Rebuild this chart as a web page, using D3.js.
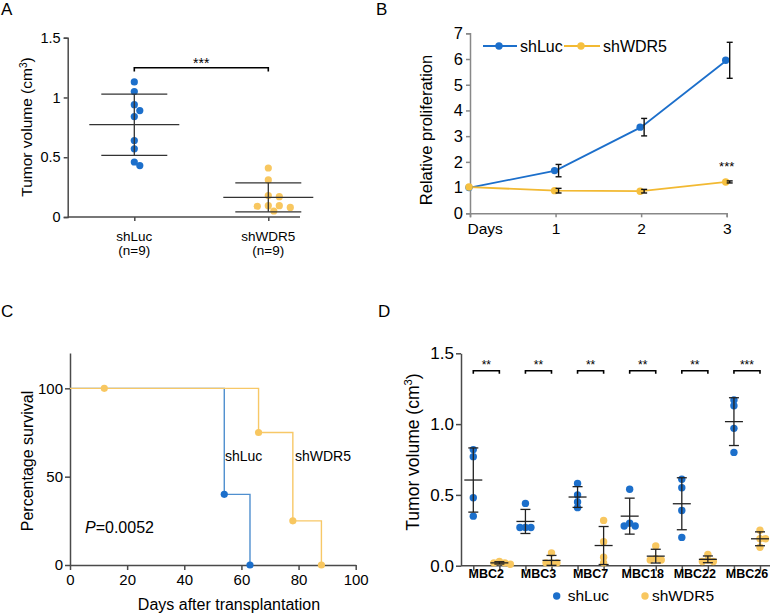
<!DOCTYPE html>
<html>
<head>
<meta charset="utf-8">
<script src="https://cdn.jsdelivr.net/npm/d3@7"></script>
<style>
  body { margin: 0; background: #fff; }
  svg { font-family: "Liberation Sans", Arial, Helvetica, sans-serif; }
</style>
</head>
<body>
<svg id="chart" width="778" height="616"></svg>
<script>
// ---- data ----
// Panel A: tumor volume per mouse
const groupsA = ["shLuc", "shWDR5"];
const volA_shLuc = [1.13, 1.05, 0.94, 0.89, 0.84, 0.64, 0.57, 0.46, 0.43];
const volA_shWDR5 = [0.41, 0.31, 0.18, 0.17, 0.095, 0.095, 0.09, 0.08, 0.05];

// Panel B: relative proliferation over days
const daysB = [0, 1, 2, 3];
const profB_shLuc = [1.0, 1.66, 3.35, 5.95];
const errB_shLuc = [0, 0.24, 0.34, 0.7];
const profB_shWDR5 = [1.02, 0.88, 0.86, 1.22];
const errB_shWDR5 = [0, 0.09, 0.07, 0.04];

// Panel C: survival curves (Kaplan-Meier steps)
const survC_shLuc_t = [0, 54, 63];
const survC_shLuc_p = [100, 40, 0];
const survC_shLuc_markT = [54, 63];
const survC_shLuc_markP = [40, 0];
const survC_shWDR5_t = [0, 66, 78, 88];
const survC_shWDR5_p = [100, 75, 25, 0];
const survC_shWDR5_markT = [12, 66, 78, 88];
const survC_shWDR5_markP = [100, 75, 25, 0];

// Panel D: tumor volume per PDX model
const modelsD = ["MBC2", "MBC3", "MBC7", "MBC18", "MBC22", "MBC26"];
const volD_shLuc = [
  [0.82, 0.77, 0.48, 0.35],
  [0.44, 0.27, 0.27, 0.27],
  [0.58, 0.50, 0.45, 0.41],
  [0.54, 0.30, 0.28, 0.28],
  [0.61, 0.55, 0.39, 0.20],
  [1.17, 1.13, 0.97, 0.80]
];
const volD_shWDR5 = [
  [0.03, 0.02, 0.02, 0.01],
  [0.09, 0.02, 0.02, 0.02],
  [0.32, 0.17, 0.06, 0.02],
  [0.14, 0.05, 0.04, 0.04],
  [0.08, 0.04, 0.03, 0.03],
  [0.25, 0.19, 0.19, 0.13]
];
const starsD = ["**", "**", "**", "**", "**", "***"];

const blue = "#1c6fcb";
const yellow = "#f8c760";
const yellowLine = "#f2b932";
const axisCol = "#4a4a4a";

const svg = d3.select("#chart");

// simple dodge so dots don't pile exactly on top of each other
function swarm(values, y, minDist, step) {
  const placed = [];
  const order = values.map((v, i) => i).sort((a, b) => values[b] - values[a]);
  const out = new Array(values.length);
  order.forEach(i => {
    const py = y(values[i]);
    const offs = [0];
    for (let k = 1; k < 12; k++) { offs.push(k * step, -k * step); }
    for (const o of offs) {
      if (placed.every(p => Math.hypot(p.x - o, p.y - py) >= minDist)) {
        placed.push({x: o, y: py});
        out[i] = o;
        break;
      }
    }
  });
  return out;
}

function styleAxis(g, fontSize) {
  g.select(".domain").attr("stroke", axisCol).attr("stroke-width", 1.5);
  g.selectAll(".tick line").attr("stroke", axisCol).attr("stroke-width", 1.5);
  g.selectAll(".tick text").attr("fill", "#000").style("font-size", fontSize + "px").style("font-family", "inherit");
}

function panelLabel(x, y, t) {
  svg.append("text").attr("x", x).attr("y", y).text(t)
    .style("font-size", "17px");
}

function volumeLabel(g, x, y, size) {
  const t = g.append("text")
    .attr("transform", `translate(${x},${y}) rotate(-90)`)
    .attr("text-anchor", "middle")
    .attr("dy", "0.35em")
    .style("font-size", size + "px");
  t.append("tspan").text("Tumor volume (cm");
  t.append("tspan").text("3").attr("dy", -size * 0.38).style("font-size", (size * 0.65) + "px");
  t.append("tspan").text(")").attr("dy", size * 0.38);
}

// ================= Panel A =================
{
  const g = svg.append("g");
  panelLabel(1, 15, "A");
  const y = d3.scaleLinear().domain([0, 1.5]).range([217, 37.7]);
  const x = d3.scalePoint().domain(groupsA).range([134.3, 268.3]);

  const ya = g.append("g").attr("transform", "translate(67.7,0)")
    .call(d3.axisLeft(y).tickValues([0, 0.5, 1, 1.5]).tickFormat(d3.format("~g")).tickSize(4).tickPadding(3));
  styleAxis(ya, 14.5);

  const xa = g.append("g").attr("transform", "translate(0,217)")
    .call(d3.axisBottom(x).tickSize(4).tickFormat(""));
  styleAxis(xa, 13);
  xa.select(".domain").remove();
  g.append("line").attr("x1", 67.7).attr("x2", 300).attr("y1", 217).attr("y2", 217)
    .attr("stroke", axisCol).attr("stroke-width", 1.5);

  groupsA.forEach(n => {
    const t = g.append("text").attr("x", x(n)).attr("text-anchor", "middle").style("font-size", "13.5px");
    t.append("tspan").attr("x", x(n)).attr("y", 241).text(n);
    t.append("tspan").attr("x", x(n)).attr("y", 255).text("(n=9)");
  });

  volumeLabel(g, 27, 127, 15.5);

  const sets = [[volA_shLuc, blue], [volA_shWDR5, yellow]];
  sets.forEach(([vals, col], gi) => {
    const cx = x(groupsA[gi]);
    const offs = swarm(vals, y, 6, 5.5);
    g.selectAll(null).data(vals).enter().append("circle")
      .attr("cx", (d, i) => cx + offs[i]).attr("cy", d => y(d)).attr("r", 3.6)
      .attr("fill", col);
    const m = d3.mean(vals), s = d3.deviation(vals);
    const eg = g.append("g").attr("stroke", "#333").attr("stroke-width", 1.3);
    eg.append("line").attr("x1", cx - 45).attr("x2", cx + 45).attr("y1", y(m)).attr("y2", y(m));
    eg.append("line").attr("x1", cx).attr("x2", cx).attr("y1", y(m + s)).attr("y2", y(m - s));
    [m + s, m - s].forEach(v => eg.append("line").attr("x1", cx - 33).attr("x2", cx + 33).attr("y1", y(v)).attr("y2", y(v)));
  });

  g.append("path").attr("d", `M${x("shLuc")},71.5V67.7H${x("shWDR5")}V71.5`)
    .attr("fill", "none").attr("stroke", "#000").attr("stroke-width", 1.6);
  g.append("text").attr("x", (x("shLuc") + x("shWDR5")) / 2).attr("y", 68)
    .attr("text-anchor", "middle").style("font-size", "14px").text("***");
}

// ================= Panel B =================
{
  const g = svg.append("g");
  panelLabel(376, 15, "B");
  const y = d3.scaleLinear().domain([0, 7]).range([213.3, 33.3]);
  const x = d3.scaleLinear().domain([0, 3]).range([470, 726.7]);

  const ya = g.append("g").attr("transform", "translate(470,0)")
    .call(d3.axisLeft(y).ticks(7).tickSize(4).tickPadding(3));
  styleAxis(ya, 16.5);
  ya.select(".domain").attr("stroke", "#888");
  ya.selectAll(".tick line").attr("stroke", "#888");
  const xa = g.append("g").attr("transform", "translate(0,213.3)")
    .call(d3.axisBottom(x).tickValues(daysB).tickFormat(d => d === 0 ? "Days" : d).tickSize(4).tickPadding(6));
  styleAxis(xa, 15.5);
  xa.select(".domain").attr("stroke", "#888");
  xa.selectAll(".tick line").attr("stroke", "#888");
  // "Days" sits to the right of its tick
  xa.selectAll(".tick text").filter(d => d === 0).attr("text-anchor", "start").attr("x", -3);

  g.append("text").attr("transform", "translate(426,130) rotate(-90)")
    .attr("text-anchor", "middle").attr("dy", "0.35em").style("font-size", "16.5px")
    .text("Relative proliferation");

  const line = d3.line().x((d, i) => x(daysB[i])).y(d => y(d));
  const series = [
    [profB_shLuc, errB_shLuc, blue, blue],
    [profB_shWDR5, errB_shWDR5, yellowLine, "#f6c03f"]
  ];
  series.forEach(([vals, errs, lc, dc]) => {
    g.append("path").datum(vals).attr("d", line).attr("fill", "none")
      .attr("stroke", lc).attr("stroke-width", 1.8);
  });
  series.forEach(([vals, errs, lc, dc]) => {
    g.selectAll(null).data(vals).enter().append("circle")
      .attr("cx", (d, i) => x(daysB[i]) - 1).attr("cy", d => y(d)).attr("r", 3.7).attr("fill", dc);
  });
  series.forEach(([vals, errs]) => {
    vals.forEach((v, i) => {
      if (!errs[i]) return;
      const bx = x(daysB[i]) + 3;
      const eg = g.append("g").attr("stroke", "#111").attr("stroke-width", 1.4);
      eg.append("line").attr("x1", bx).attr("x2", bx).attr("y1", y(v + errs[i])).attr("y2", y(v - errs[i]));
      [v + errs[i], v - errs[i]].forEach(e => eg.append("line")
        .attr("x1", bx - 3).attr("x2", bx + 3).attr("y1", y(e)).attr("y2", y(e)));
    });
  });

  g.append("text").attr("x", x(3)).attr("y", 171).attr("text-anchor", "middle")
    .style("font-size", "13px").text("***");

  // legend
  const leg = [["shLuc", blue, blue, 483, 517, 499, 520], ["shWDR5", yellowLine, "#f6c03f", 564, 600, 581, 603]];
  leg.forEach(([name, lc, dc, x1, x2, cx, tx]) => {
    g.append("line").attr("x1", x1).attr("x2", x2).attr("y1", 46).attr("y2", 46)
      .attr("stroke", lc).attr("stroke-width", 1.8);
    g.append("circle").attr("cx", cx).attr("cy", 46).attr("r", 3.7).attr("fill", dc);
    g.append("text").attr("x", tx).attr("y", 46).attr("dy", "0.35em").style("font-size", "16px").text(name);
  });
}

// ================= Panel C =================
{
  const g = svg.append("g");
  panelLabel(1, 317, "C");
  const y = d3.scaleLinear().domain([0, 120]).range([565, 353]);
  const x = d3.scaleLinear().domain([0, 100]).range([70, 355.7]);

  const ya = g.append("g").attr("transform", "translate(70,0)")
    .call(d3.axisLeft(y).tickValues([0, 50, 100]).tickSize(5).tickPadding(2).tickSizeOuter(0));
  styleAxis(ya, 15);
  const xa = g.append("g").attr("transform", "translate(0,565)")
    .call(d3.axisBottom(x).ticks(5).tickSize(5).tickPadding(4).tickSizeOuter(0));
  styleAxis(xa, 15);

  g.append("text").attr("transform", "translate(27,461) rotate(-90)")
    .attr("text-anchor", "middle").attr("dy", "0.35em").style("font-size", "16px")
    .text("Percentage survival");
  g.append("text").attr("x", 229).attr("y", 610).attr("text-anchor", "middle")
    .style("font-size", "16px").text("Days after transplantation");

  const step = d3.line().curve(d3.curveStepAfter).x(d => x(d[0])).y(d => y(d[1]));
  const curves = [
    [d3.zip(survC_shLuc_t, survC_shLuc_p), d3.zip(survC_shLuc_markT, survC_shLuc_markP), "#4f8fcf", blue],
    [d3.zip(survC_shWDR5_t, survC_shWDR5_p), d3.zip(survC_shWDR5_markT, survC_shWDR5_markP), "#f7c867", yellow]
  ];
  curves.forEach(([pts, marks, lc, dc]) => {
    g.append("path").datum(pts).attr("d", step).attr("fill", "none")
      .attr("stroke", lc).attr("stroke-width", 1.4);
    g.selectAll(null).data(marks).enter().append("circle")
      .attr("cx", d => x(d[0])).attr("cy", d => y(d[1])).attr("r", 3.6).attr("fill", dc);
  });

  g.append("text").attr("x", 225).attr("y", 461).style("font-size", "14px").text("shLuc");
  g.append("text").attr("x", 295).attr("y", 461).style("font-size", "14px").text("shWDR5");
  const p = g.append("text").attr("x", 85).attr("y", 533).style("font-size", "16px");
  p.append("tspan").style("font-style", "italic").text("P");
  p.append("tspan").text("=0.0052");
}

// ================= Panel D =================
{
  const g = svg.append("g");
  panelLabel(378, 317, "D");
  const y = d3.scaleLinear().domain([0, 1.5]).range([565.7, 353.3]);
  const slots = modelsD.flatMap(m => [m + "|shLuc", m + "|shWDR5"]);
  const x = d3.scalePoint().domain(slots).range([473.3, 760]);

  const ya = g.append("g").attr("transform", "translate(461,0)")
    .call(d3.axisLeft(y).tickValues([0, 0.5, 1, 1.5]).tickFormat(d3.format(".1f")).tickSize(5).tickPadding(2).tickSizeOuter(0));
  styleAxis(ya, 17);
  const xa = g.append("g").attr("transform", "translate(0,565.7)")
    .call(d3.axisBottom(x).tickSize(5).tickFormat("").tickSizeOuter(0));
  styleAxis(xa, 12);
  xa.select(".domain").remove();
  g.append("line").attr("x1", 461).attr("x2", 770).attr("y1", 565.7).attr("y2", 565.7)
    .attr("stroke", axisCol).attr("stroke-width", 1.5);

  volumeLabel(g, 413, 452, 17.5);

  modelsD.forEach((m, gi) => {
    const x1 = x(m + "|shLuc"), x2 = x(m + "|shWDR5");
    g.append("text").attr("x", (x1 + x2) / 2).attr("y", 578).attr("text-anchor", "middle")
      .style("font-size", "12.5px").style("font-weight", "bold").text(m);

    [[volD_shLuc[gi], x1, blue], [volD_shWDR5[gi], x2, yellow]].forEach(([vals, cx, col]) => {
      const offs = swarm(vals, y, 4.5, 5.5);
      g.selectAll(null).data(vals).enter().append("circle")
        .attr("cx", (d, i) => cx + offs[i]).attr("cy", d => y(d)).attr("r", 3.7).attr("fill", col);
      const mu = d3.mean(vals), s = d3.deviation(vals);
      const eg = g.append("g").attr("stroke", "#222").attr("stroke-width", 1.3);
      eg.append("line").attr("x1", cx - 9).attr("x2", cx + 9).attr("y1", y(mu)).attr("y2", y(mu));
      eg.append("line").attr("x1", cx).attr("x2", cx).attr("y1", y(mu + s)).attr("y2", y(Math.max(0, mu - s)));
      [mu + s, mu - s].forEach(v => { if (v > 0) eg.append("line").attr("x1", cx - 5).attr("x2", cx + 5).attr("y1", y(v)).attr("y2", y(v)); });
    });

    g.append("path").attr("d", `M${x1},373.8V370.7H${x2}V373.8`)
      .attr("fill", "none").attr("stroke", "#000").attr("stroke-width", 1.6);
    g.append("text").attr("x", (x1 + x2) / 2).attr("y", 369).attr("text-anchor", "middle")
      .style("font-size", "12px").text(starsD[gi]);
  });

  // legend
  [["shLuc", blue, 556.7, 567.7], ["shWDR5", yellow, 645, 652]].forEach(([n, col, cx, tx]) => {
    g.append("circle").attr("cx", cx).attr("cy", 596).attr("r", 3.7).attr("fill", col);
    g.append("text").attr("x", tx).attr("y", 596).attr("dy", "0.35em").style("font-size", "15.5px").text(n);
  });
}
</script>
</body>
</html>
